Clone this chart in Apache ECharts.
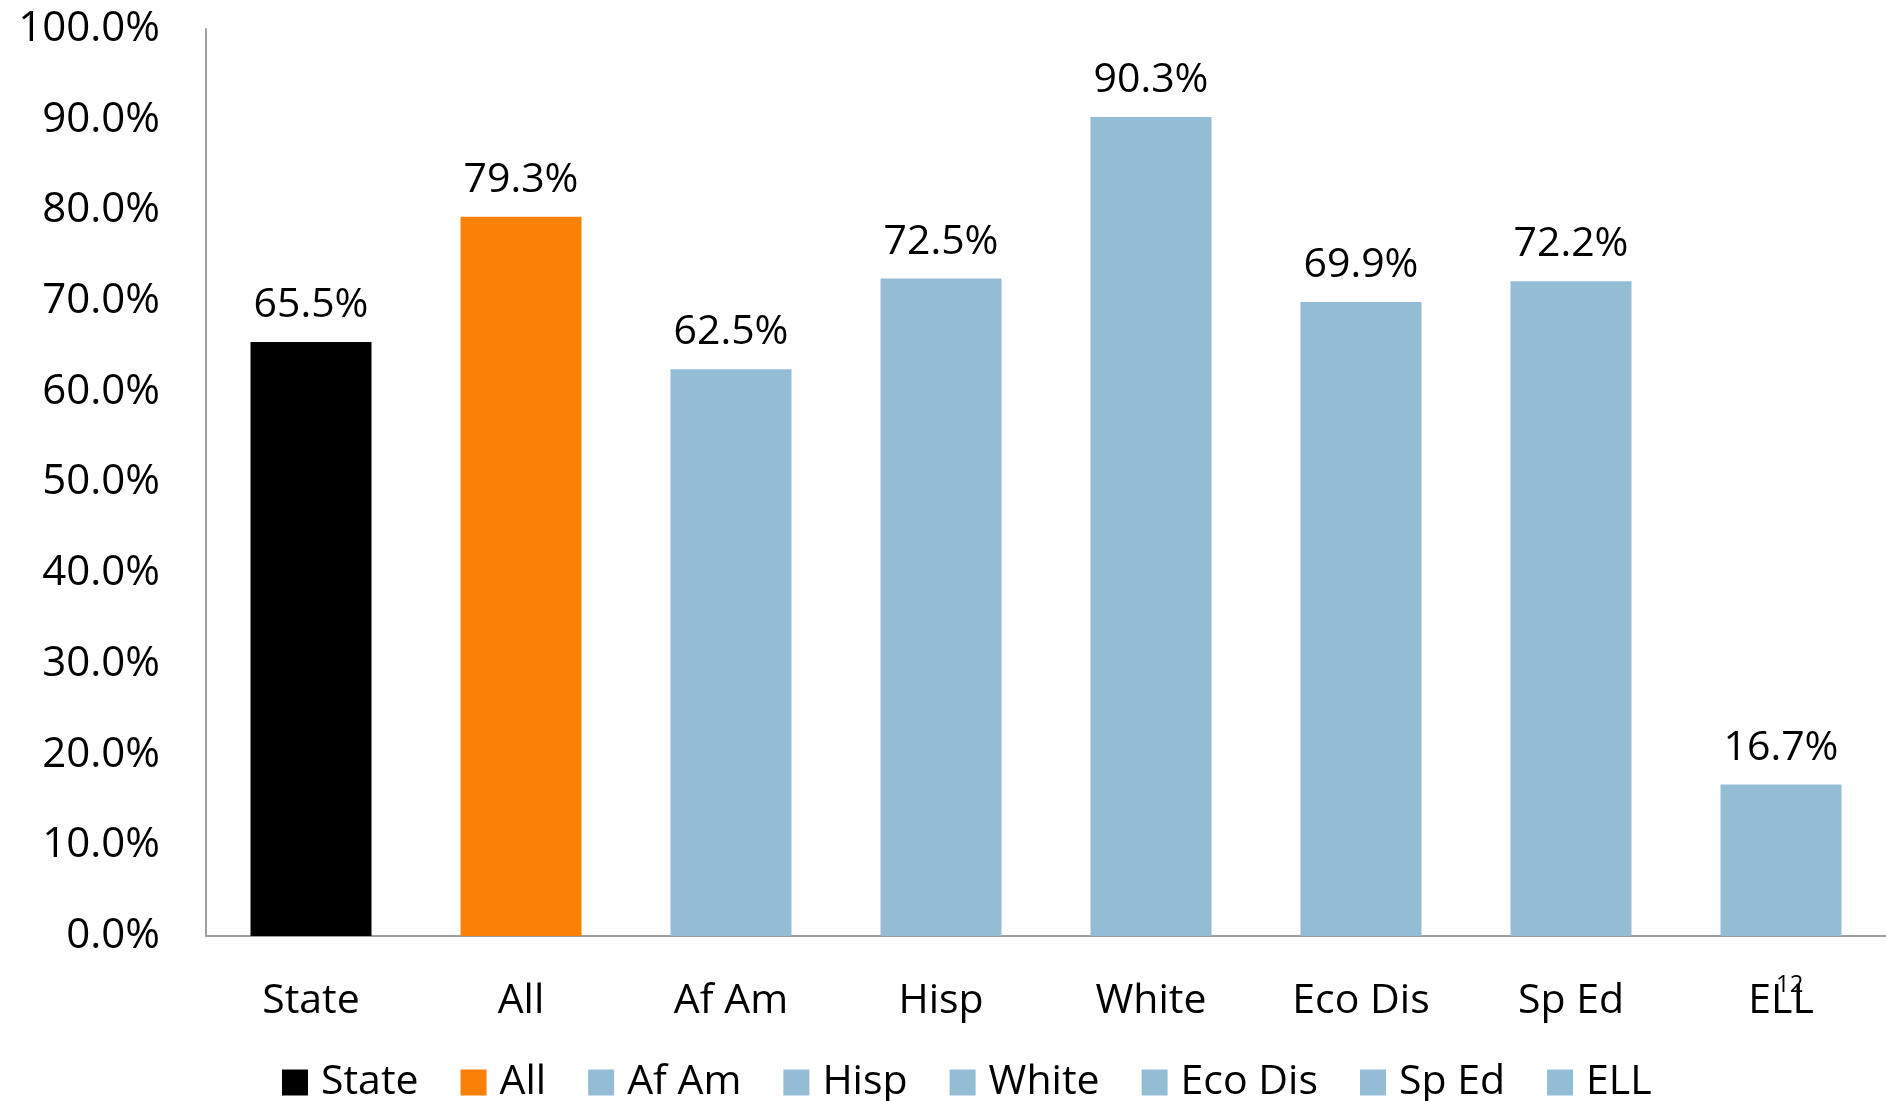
<!DOCTYPE html>
<html>
<head>
<meta charset="utf-8">
<script src="https://cdn.jsdelivr.net/npm/echarts@6/dist/echarts.min.js"></script>
<style>
html,body{margin:0;padding:0;background:#fff;overflow:hidden;}
#chart{width:1886px;height:1101px;}
</style>
</head>
<body>
<div id="chart"></div>
<script>
const categories = ["State", "All", "Af Am", "Hisp", "White", "Eco Dis", "Sp Ed", "ELL"];
const values = [65.5, 79.3, 62.5, 72.5, 90.3, 69.9, 72.2, 16.7];
const yTicks = [0, 10, 20, 30, 40, 50, 60, 70, 80, 90, 100];
const colors = ["#000000", "#FA8108", "#93BDD4", "#93BDD4", "#93BDD4", "#93BDD4", "#93BDD4", "#93BDD4"];

const FONT = "'Open Sans', 'Noto Sans', sans-serif";
const chart = echarts.init(document.getElementById('chart'));

const series = categories.map((name, i) => ({
  name: name,
  type: 'bar',
  stack: 'all',
  barWidth: 121,
  itemStyle: { color: colors[i] },
  data: categories.map((c, j) => (j === i ? values[j] : '-')),
  label: {
    show: true,
    position: 'top',
    distance: 16,
    color: '#000',
    fontFamily: FONT,
    fontSize: 41,
    formatter: p => p.value.toFixed(1) + '%'
  }
}));

chart.setOption({
  backgroundColor: '#fff',
  animation: false,
  grid: { left: 206, width: 1686, top: 29, bottom: 165, containLabel: false },
  legend: {
    left: 277,
    top: 1057,
    icon: 'rect',
    itemWidth: 26,
    itemHeight: 26,
    itemGap: 42,
    textStyle: { fontFamily: FONT, fontSize: 41, color: '#000', padding: [0, 0, 0, 8] },
    data: categories
  },
  xAxis: {
    type: 'category',
    data: categories,
    axisLine: { show: true, lineStyle: { color: '#A0A0A0', width: 2 } },
    axisTick: { show: false },
    axisLabel: { color: '#000', fontFamily: FONT, fontSize: 41, margin: 45 },
    splitLine: { show: false }
  },
  yAxis: {
    type: 'value',
    min: yTicks[0],
    max: yTicks[yTicks.length - 1],
    interval: yTicks[1] - yTicks[0],
    axisLine: { show: true, lineStyle: { color: '#A0A0A0', width: 2 } },
    axisTick: { show: false },
    splitLine: { show: false },
    axisLabel: {
      color: '#000', fontFamily: FONT, fontSize: 42, margin: 46,
      formatter: v => v.toFixed(1) + '%'
    }
  },
  graphic: [{
    type: 'text',
    left: 1776,
    top: 973,
    style: { text: '12', fontFamily: FONT, fontSize: 24, fill: '#000' }
  }],
  series: series
});
</script>
</body>
</html>
